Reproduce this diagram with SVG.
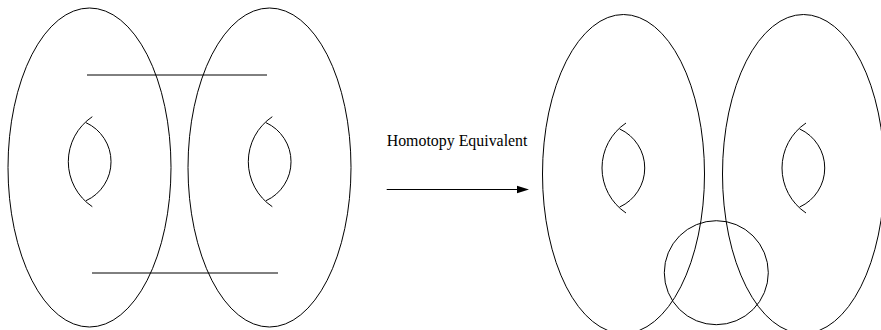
<svg xmlns="http://www.w3.org/2000/svg" width="881" height="330" viewBox="0 0 881 330">
<style>
.s{fill:none;stroke:#000;stroke-width:1}
.t{font-family:"Liberation Serif","Times New Roman",serif;font-size:15.9px;fill:#000}
</style>
<defs>
<path id="hole" class="s" d="M92.3,116.7 A54.2,54.2 0 0 0 92.3,206.7 M86,122.7 A42.9,42.9 0 0 1 86,200.7"/>
</defs>
<rect width="881" height="330" fill="#fff"/>
<g id="left-torus-a">
<ellipse class="s" cx="89.5" cy="167.5" rx="81.5" ry="159.5"/>
<use href="#hole"/>
</g>
<g id="left-torus-b">
<ellipse class="s" cx="269.5" cy="167.5" rx="81.5" ry="159.5"/>
<use href="#hole" transform="translate(180,0)"/>
</g>
<g id="bands">
<line class="s" x1="87" y1="75" x2="267" y2="75"/>
<line class="s" x1="92" y1="273" x2="278" y2="273"/>
</g>
<g id="label">
<text class="t" x="386.7" y="146">Homotopy Equivalent</text>
</g>
<g id="connectors">
<line class="s" x1="386.7" y1="189.5" x2="518" y2="189.5"/>
<path d="M517,185.8 L529,189.5 L517,193.2 Z" fill="#000"/>
</g>
<g id="right-torus-a">
<ellipse class="s" cx="623.5" cy="174" rx="81" ry="159.5"/>
<use href="#hole" transform="translate(533.7,6.3)"/>
</g>
<g id="right-torus-b">
<ellipse class="s" cx="803.5" cy="174" rx="81" ry="159.5"/>
<use href="#hole" transform="translate(713.7,6.3)"/>
</g>
<g id="circle">
<circle class="s" cx="716.3" cy="272.7" r="52"/>
</g>
</svg>
